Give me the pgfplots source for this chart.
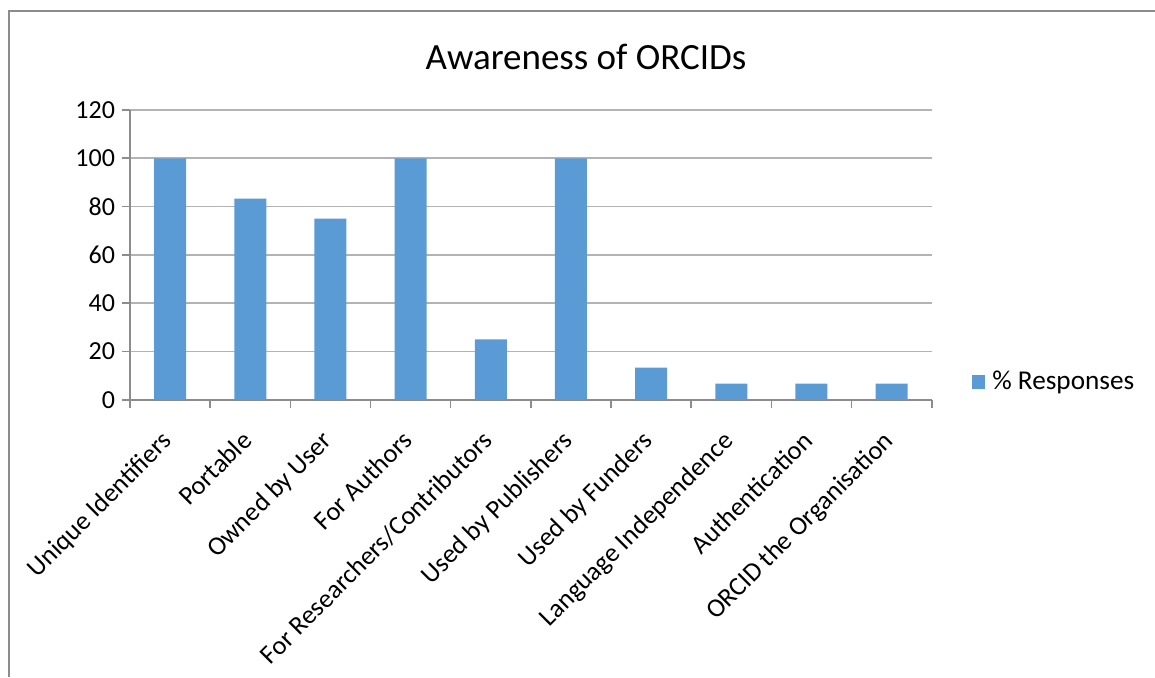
\documentclass[border=0pt]{standalone}
\usepackage{pgfplots}
\pgfplotsset{compat=1.18}
\usepackage{fontspec}
\setmainfont{Carlito}
\definecolor{barblue}{HTML}{5B9BD5}
\definecolor{gridgray}{HTML}{B3B3B3}
\definecolor{axisgray}{HTML}{8C8C8C}
\begin{document}
\begin{tikzpicture}
\path[use as bounding box] (0,0) rectangle (577.5pt,338.5pt);
% chart frame (top and left edges)
\draw[axisgray, line width=0.8pt] (4.5pt,0) -- (4.5pt,333pt) -- (577.5pt,333pt);
\node[font=\fontsize{18.5}{22}\selectfont] at (293pt,310pt) {Awareness of ORCIDs};
\begin{axis}[
  at={(65pt,138.65pt)}, anchor=south west,
  scale only axis, width=400.85pt, height=144.85pt,
  xmin=-0.5, xmax=9.5, ymin=0, ymax=120,
  ytick={0,20,...,120},
  xtick={0,...,9},
  xticklabels={Unique Identifiers,Portable,Owned by User,For Authors,For Researchers/Contributors,Used by Publishers,Used by Funders,Language Independence,Authentication,ORCID the Organisation},
  minor xtick={-0.5,0.5,...,9.5},
  major x tick style={draw=none},
  tick align=outside,
  major tick length=4pt, minor tick length=4pt,
  tick style={axisgray, line width=0.8pt},
  axis x line*=bottom, axis y line*=left,
  axis line style={axisgray, line width=0.8pt, -},
  ymajorgrids, grid style={gridgray, line width=0.8pt},
  ticklabel style={font=\fontsize{13}{15}\selectfont},
  xticklabel style={font=\fontsize{13.2}{16}\selectfont, rotate=45, anchor=north east, inner sep=1pt, xshift=-10pt, yshift=-3pt},
  /pgf/number format/assume math mode=true,
  legend style={at={(1.05,0.061)}, anchor=west, draw=none, fill=none,
    font=\fontsize{13.6}{16}\selectfont, inner sep=0pt,
    nodes={inner xsep=3.5pt, inner ysep=2pt}},
  legend image code/.code={\fill[barblue] (0pt,-3.3pt) rectangle (6.6pt,3.3pt);},
]
\addplot[ybar, bar width=16pt, fill=barblue, draw=none] coordinates {
  (0,100) (1,83.3) (2,75) (3,100) (4,25) (5,100) (6,13.3) (7,6.7) (8,6.7) (9,6.7)
};
\addlegendentry{\% Responses}
\end{axis}
\end{tikzpicture}
\end{document}
